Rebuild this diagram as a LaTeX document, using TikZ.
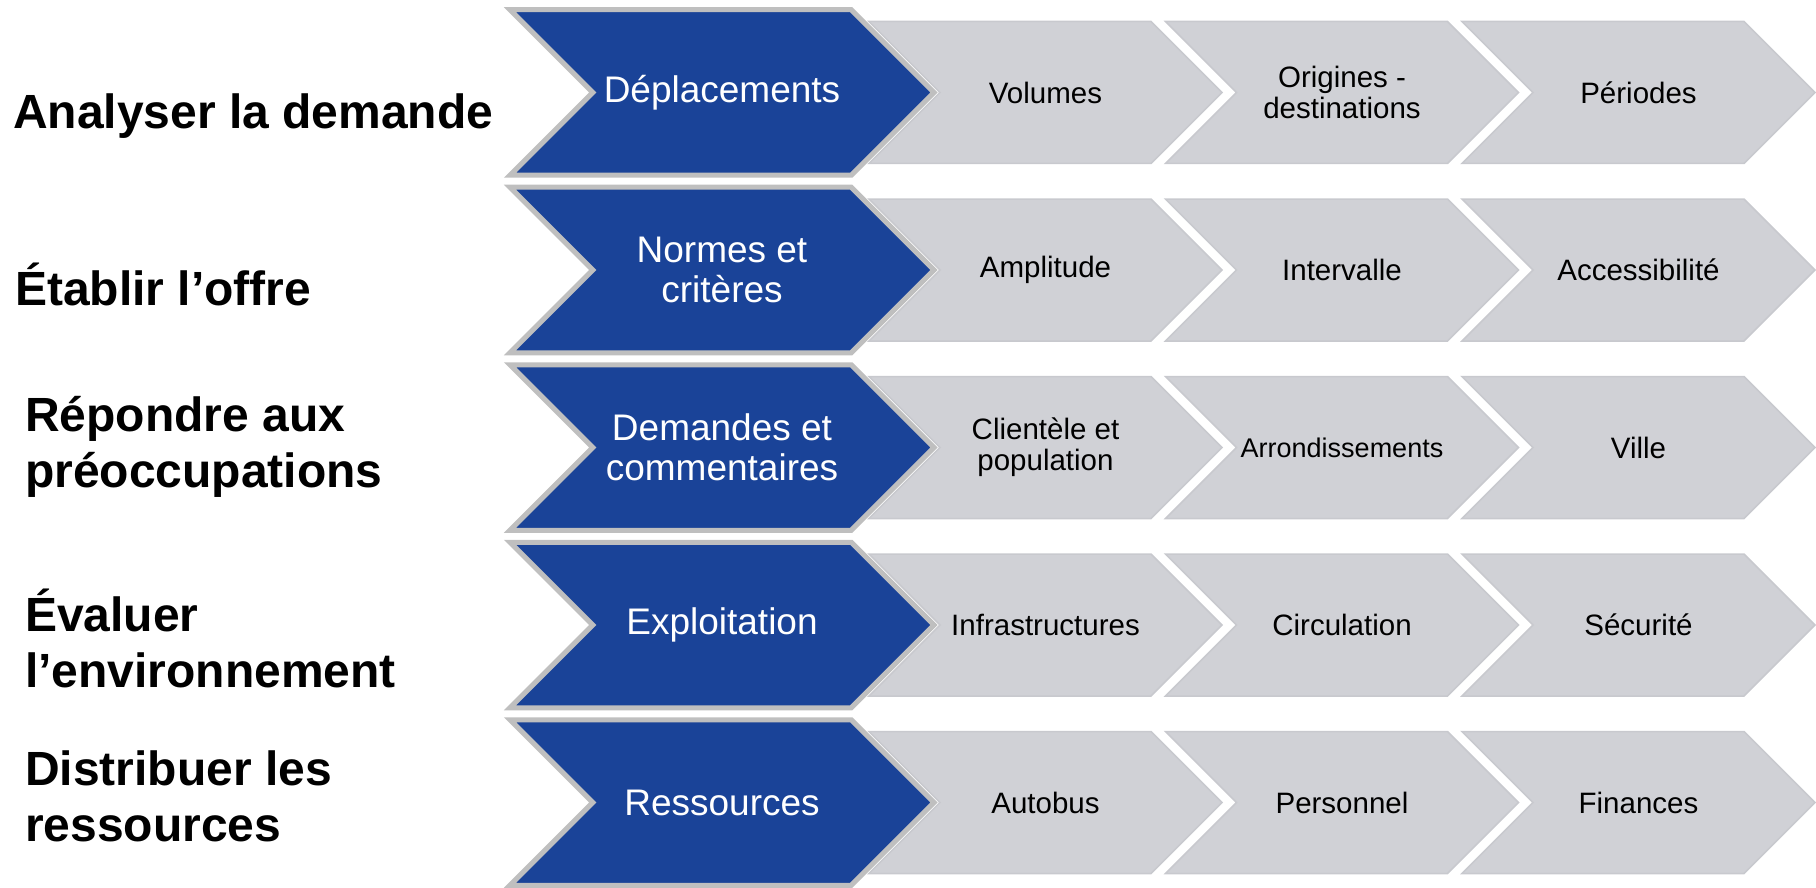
\documentclass[tikz,border=0pt]{standalone}
\usepackage{fontspec}
\setmainfont{Liberation Sans}
\usepackage{xcolor}
\usetikzlibrary{shapes.symbols, positioning}

\definecolor{stepblue}{HTML}{1A4398}
\definecolor{stepedge}{HTML}{BFBFBF}
\definecolor{chevgrey}{HTML}{D0D1D6}
\definecolor{chevline}{HTML}{C8C9CE}

\begin{document}
\begin{tikzpicture}[x=1pt, y=-1pt,
        lead/.style={shape=signal, signal to=east, signal from=west, signal pointer angle=90, draw=stepedge, line width=5pt, fill=stepblue, text=white, align=center, minimum width=424pt, minimum height=165.5pt, inner sep=0pt, font=\fontsize{37}{40}\selectfont},
        sub/.style={shape=signal, signal to=east, signal from=west, signal pointer angle=90, draw=chevline, line width=1.5pt, fill=chevgrey, text=black, align=center, minimum width=353pt, minimum height=142pt, inner sep=0pt, font=\fontsize{29.5}{31}\selectfont},
        subsmall/.style={sub, font=\fontsize{27}{29}\selectfont},
        task/.style={anchor=base west, align=left, inner sep=0pt, font=\fontsize{48}{56}\selectfont\bfseries}]

        \useasboundingbox (0,0) rectangle (1816,888);

        % Left labels (base = last line)
        \node [task] (analyser) at (13,129) {Analyser la demande};
        \node [task] (etablir) at (15,305) {Établir l’offre};
        \node [task] (repondre) at (25,487) {Répondre aux\\préoccupations};
        \node [task] (evaluer) at (25,687) {Évaluer\\l’environnement};
        \node [task] (distribuer) at (25,841) {Distribuer les\\ressources};

        % Row 1
        \node [sub] (vol) at (1045.5,92.5) {Volumes};
        \node [sub] (orig) at (1342,92.5) {Origines -\\destinations};
        \node [sub] (per) at (1638.5,92.5) {Périodes};
        \node [lead] (depl) at (722,92.5) {Déplacements};

        % Row 2
        \node [sub] (ampl) at (1045.5,270) {Amplitude};
        \node [sub] (interv) at (1342,270) {Intervalle};
        \node [sub] (access) at (1638.5,270) {Accessibilité};
        \node [lead] (normes) at (722,270) {Normes et\\critères};

        % Row 3
        \node [sub] (client) at (1045.5,447.5) {Clientèle et\\population};
        \node [subsmall] (arrond) at (1342,447.5) {Arrondissements};
        \node [sub] (ville) at (1638.5,447.5) {Ville};
        \node [lead] (demandes) at (722,447.5) {Demandes et\\commentaires};

        % Row 4
        \node [sub] (infra) at (1045.5,625) {Infrastructures};
        \node [sub] (circ) at (1342,625) {Circulation};
        \node [sub] (secu) at (1638.5,625) {Sécurité};
        \node [lead] (exploit) at (722,625) {Exploitation};

        % Row 5
        \node [sub] (bus) at (1045.5,802.5) {Autobus};
        \node [sub] (pers) at (1342,802.5) {Personnel};
        \node [sub] (fin) at (1638.5,802.5) {Finances};
        \node [lead] (ressources) at (722,802.5) {Ressources};

    \end{tikzpicture}
\end{document}
